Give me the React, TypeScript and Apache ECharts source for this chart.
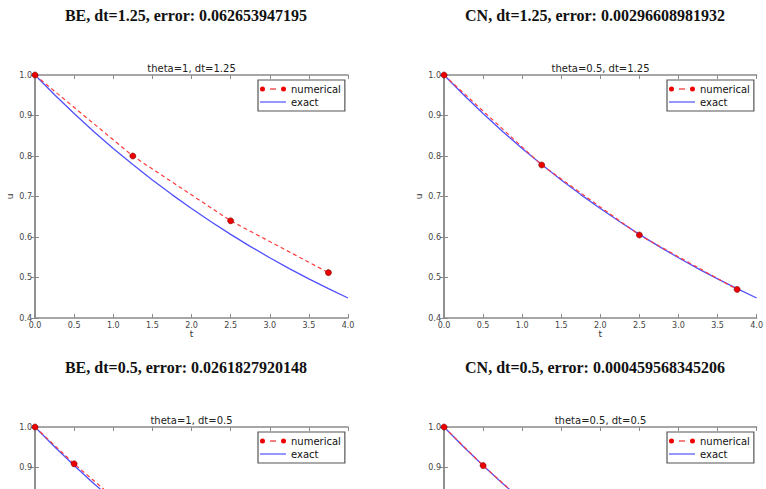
import React, { useEffect, useRef } from "react";
import * as echarts from "echarts";

// ---- data ----
const T_EXACT = [0, 0.25, 0.5, 0.75, 1.0, 1.25, 1.5, 1.75, 2.0, 2.25, 2.5, 2.75, 3.0, 3.25, 3.5, 3.75, 4.0];
const U_EXACT = [1.0, 0.9512, 0.9048, 0.8607, 0.8187, 0.7788, 0.7408, 0.7047, 0.6703, 0.6376, 0.6065, 0.5769, 0.5488, 0.522, 0.4966, 0.4724, 0.4493];

const T_DT125 = [0, 1.25, 2.5, 3.75];
const U_BE_DT125 = [1.0, 0.8, 0.64, 0.512];
const U_CN_DT125 = [1.0, 0.7778, 0.6049, 0.4705];

const T_DT05 = [0, 0.5, 1.0, 1.5, 2.0, 2.5, 3.0, 3.5, 4.0];
const U_BE_DT05 = [1.0, 0.9091, 0.8264, 0.7513, 0.683, 0.6209, 0.5645, 0.5132, 0.4665];
const U_CN_DT05 = [1.0, 0.9048, 0.8186, 0.7407, 0.6701, 0.6063, 0.5486, 0.4963, 0.4491];

const HEADINGS = [
  "BE, dt=1.25, error: 0.062653947195",
  "CN, dt=1.25, error: 0.00296608981932",
  "BE, dt=0.5, error: 0.0261827920148",
  "CN, dt=0.5, error: 0.000459568345206",
];
const SUBTITLES = ["theta=1, dt=1.25", "theta=0.5, dt=1.25", "theta=1, dt=0.5", "theta=0.5, dt=0.5"];
const LEGEND_NAMES = ["numerical", "exact"];
const X_RANGE = [0, 4, 0.5];
const Y_RANGE = [0.4, 1.0, 0.1];

const NUM_T = [T_DT125, T_DT125, T_DT05, T_DT05];
const NUM_U = [U_BE_DT125, U_CN_DT125, U_BE_DT05, U_CN_DT05];

// ---- layout ----
const GRIDS = [
  { left: 35, top: 75 },
  { left: 444, top: 75 },
  { left: 35, top: 427 },
  { left: 444, top: 427 },
];
const GW = 313;
const GH = 243;
const CHART_H = 720; // taller than the visible window; the page clips it at 489
const HEAD_POS = [
  { x: 186, y: 15 },
  { x: 595, y: 15 },
  { x: 186, y: 367 },
  { x: 595, y: 367 },
];

const AXIS_COLOR = "#8a8a8a";
const LABEL_COLOR = "#444";
const SANS = "DejaVu Sans";

const numIcon =
  "path://M0,4a2.5,2.5 0 1,0 5,0a2.5,2.5 0 1,0 -5,0Z M21,4a2.5,2.5 0 1,0 5,0a2.5,2.5 0 1,0 -5,0Z M10,3.4L16,3.4L16,4.6L10,4.6Z";
const exactIcon = "path://M0,3.4L26,3.4L26,4.6L0,4.6Z";

export default function App() {
  const ref = useRef<HTMLDivElement>(null);

  useEffect(() => {
    if (!ref.current) return;
    const chart = echarts.init(ref.current, null, { renderer: "svg" });

    const grid: any[] = [];
    const xAxis: any[] = [];
    const yAxis: any[] = [];
    const series: any[] = [];
    const legend: any[] = [];
    const graphic: any[] = [];

    const axisLine = { show: true, lineStyle: { color: AXIS_COLOR, width: 1.5 } };
    const axisTick = { show: true, inside: true, length: 4, lineStyle: { color: AXIS_COLOR, width: 1 } };

    GRIDS.forEach((g, i) => {
      grid.push({ left: g.left, top: g.top, width: GW, height: GH, containLabel: false });
      const xBase = {
        type: "value",
        gridIndex: i,
        min: X_RANGE[0],
        max: X_RANGE[1],
        interval: X_RANGE[2],
        axisLine,
        axisTick,
        splitLine: { show: false },
      };
      xAxis.push({
        ...xBase,
        position: "bottom",
        name: "t",
        nameLocation: "middle",
        nameGap: 10,
        nameTextStyle: { fontSize: 9, fontFamily: SANS, color: "#333" },
        axisLabel: {
          fontSize: 8,
          fontFamily: SANS,
          color: LABEL_COLOR,
          margin: 3,
          formatter: (v: number) => v.toFixed(1),
        },
      });
      xAxis.push({ ...xBase, position: "top", axisLabel: { show: false } });
      const yBase = {
        type: "value",
        gridIndex: i,
        min: Y_RANGE[0],
        max: Y_RANGE[1],
        interval: Y_RANGE[2],
        axisLine,
        axisTick,
        splitLine: { show: false },
      };
      yAxis.push({
        ...yBase,
        position: "left",
        name: "u",
        nameLocation: "middle",
        nameRotate: 90,
        nameGap: 21,
        nameTextStyle: { fontSize: 9, fontFamily: SANS, color: "#333" },
        axisLabel: {
          fontSize: 8,
          fontFamily: SANS,
          color: LABEL_COLOR,
          margin: 3,
          formatter: (v: number) => v.toFixed(1),
        },
      });
      yAxis.push({ ...yBase, position: "right", axisLabel: { show: false } });

      series.push({
        name: LEGEND_NAMES[0],
        type: "line",
        xAxisIndex: i * 2,
        yAxisIndex: i * 2,
        data: NUM_T[i].map((t, k) => [t, NUM_U[i][k]]),
        symbol: "circle",
        symbolSize: 6,
        showSymbol: true,
        itemStyle: { color: "#ee0000", borderColor: "#700000", borderWidth: 0.6 },
        lineStyle: { color: "#ff3b3b", width: 1.2, type: [4, 3] },
        z: 3,
      });
      series.push({
        name: LEGEND_NAMES[1],
        type: "line",
        xAxisIndex: i * 2,
        yAxisIndex: i * 2,
        data: T_EXACT.map((t, k) => [t, U_EXACT[k]]),
        symbol: "none",
        showSymbol: false,
        itemStyle: { color: "#5050ff" },
        lineStyle: { color: "#5050ff", width: 1.3 },
        z: 2,
      });

      legend.push({
        orient: "vertical",
        left: g.left + 223,
        top: g.top + 5,
        padding: [3, 4, 3, 2],
        itemWidth: 26,
        itemHeight: 8,
        itemGap: 1,
        backgroundColor: "#fff",
        borderColor: "#555",
        borderWidth: 1.2,
        borderRadius: 0,
        selectedMode: false,
        itemStyle: { borderWidth: 0 },
        textStyle: { fontSize: 10, fontFamily: SANS, color: "#111", lineHeight: 12 },
        data: [
          { name: LEGEND_NAMES[0], icon: numIcon },
          { name: LEGEND_NAMES[1], icon: exactIcon },
        ],
      });

      graphic.push({
        type: "text",
        x: HEAD_POS[i].x,
        y: HEAD_POS[i].y,
        style: {
          text: HEADINGS[i],
          fontSize: 16,
          fontWeight: "bold",
          fontFamily: "Liberation Serif",
          fill: "#111",
          textAlign: "center",
          textVerticalAlign: "middle",
        },
      });
      graphic.push({
        type: "text",
        x: g.left + GW / 2,
        y: g.top - 7,
        style: {
          text: SUBTITLES[i],
          fontSize: 10,
          fontFamily: SANS,
          fill: "#222",
          textAlign: "center",
          textVerticalAlign: "middle",
        },
      });
    });

    chart.setOption({
      animation: false,
      backgroundColor: "#fff",
      grid,
      xAxis,
      yAxis,
      series,
      legend,
      graphic,
    });

    return () => chart.dispose();
  }, []);

  return (
    <div
      style={{
        position: "fixed",
        left: 0,
        top: 0,
        width: 766,
        height: 489,
        overflow: "hidden",
        background: "#fff",
      }}
    >
      <div ref={ref} style={{ width: 766, height: CHART_H }} />
    </div>
  );
}
